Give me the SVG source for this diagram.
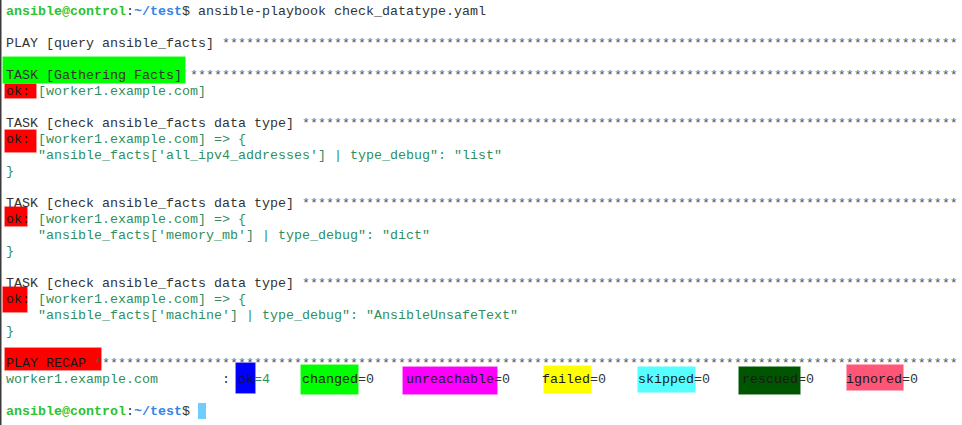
<svg xmlns="http://www.w3.org/2000/svg" width="962" height="425" viewBox="0 0 962 425">
<style>
text{font-family:"Liberation Mono","DejaVu Sans Mono",monospace;font-size:13.333px;white-space:pre;fill:#333333}
.st{fill:#555555}
.tl{fill:#2f8f5f}
.pg{fill:#2bc232;font-weight:bold}
.pb{fill:#3584e4;font-weight:bold}
.dk{fill:#1a1a1a}
.hl{stroke-width:1;stroke-opacity:0.35}
</style>
<rect x="0" y="0" width="962" height="425" fill="#ffffff"/>
<rect x="0" y="0" width="1.5" height="425" fill="#3a3a3a"/>

<g id="highlights">
<rect class="hl" x="2.5" y="56.5" width="183" height="27" fill="#00ff00" stroke="#aaffaa"/>
<rect class="hl" x="4.5" y="83.5" width="32" height="15" fill="#ff0000" stroke="#ffaaaa"/>
<rect class="hl" x="4.5" y="129.5" width="32" height="23" fill="#ff0000" stroke="#ffaaaa"/>
<rect class="hl" x="4.5" y="206.5" width="23" height="20" fill="#ff0000" stroke="#ffaaaa"/>
<rect class="hl" x="2.5" y="286.5" width="25" height="26" fill="#ff0000" stroke="#ffaaaa"/>
<rect class="hl" x="4.5" y="347.5" width="97" height="23" fill="#ff0000" stroke="#ffaaaa"/>
<rect class="hl" x="235.5" y="362.5" width="20" height="31" fill="#0000ff" stroke="#aaaaff"/>
<rect class="hl" x="300.5" y="364.5" width="58" height="30" fill="#00ff00" stroke="#aaffaa"/>
<rect class="hl" x="402.5" y="366.5" width="95" height="28" fill="#ff00ff" stroke="#ffaaff"/>
<rect class="hl" x="543.5" y="365.5" width="48" height="28" fill="#ffff00" stroke="#ffffaa"/>
<rect class="hl" x="637.5" y="366.5" width="58" height="26" fill="#55ffff" stroke="#aaffff"/>
<rect class="hl" x="738.5" y="366.5" width="62" height="28" fill="#005500" stroke="#88bb88"/>
<rect class="hl" x="846.5" y="364.5" width="57" height="26" fill="#ff5577" stroke="#ffaabb"/>
</g>

<g id="prompt1">
<text x="6" y="15.3"><tspan class="pg">ansible@control</tspan>:<tspan class="pb">~/test</tspan>$ ansible-playbook check_datatype.yaml</text>
</g>

<g id="play">
<text x="6" y="47.3">PLAY [query ansible_facts] </text>
<text class="st" x="222" y="47.3"><tspan>**********</tspan><tspan>**********</tspan><tspan>**********</tspan><tspan>**********</tspan><tspan>**********</tspan><tspan>**********</tspan><tspan>**********</tspan><tspan>**********</tspan><tspan>**********</tspan><tspan>**</tspan></text>
</g>

<g id="task1">
<text x="6" y="79.3">TASK [Gathering Facts] </text>
<text class="st" x="190" y="79.3"><tspan>**********</tspan><tspan>**********</tspan><tspan>**********</tspan><tspan>**********</tspan><tspan>**********</tspan><tspan>**********</tspan><tspan>**********</tspan><tspan>**********</tspan><tspan>**********</tspan><tspan>******</tspan></text>
<text x="6" y="95.3"><tspan class="dk">ok:</tspan><tspan class="tl"> [worker1.example.com]</tspan></text>
</g>

<g id="task2">
<text x="6" y="127.3">TASK [check ansible_facts data type] </text>
<text class="st" x="302" y="127.3"><tspan>**********</tspan><tspan>**********</tspan><tspan>**********</tspan><tspan>**********</tspan><tspan>**********</tspan><tspan>**********</tspan><tspan>**********</tspan><tspan>**********</tspan><tspan>**</tspan></text>
<text x="6" y="143.3"><tspan class="dk">ok:</tspan><tspan class="tl"> [worker1.example.com] =&gt; {</tspan></text>
<text class="tl" x="38" y="159.3">"ansible_facts['all_ipv4_addresses'] | type_debug": "list"</text>
<text class="tl" x="6" y="175.3">}</text>
</g>

<g id="task3">
<text x="6" y="207.3">TASK [check ansible_facts data type] </text>
<text class="st" x="302" y="207.3"><tspan>**********</tspan><tspan>**********</tspan><tspan>**********</tspan><tspan>**********</tspan><tspan>**********</tspan><tspan>**********</tspan><tspan>**********</tspan><tspan>**********</tspan><tspan>**</tspan></text>
<text x="6" y="223.3"><tspan class="dk">ok:</tspan><tspan class="tl"> [worker1.example.com] =&gt; {</tspan></text>
<text class="tl" x="38" y="239.3">"ansible_facts['memory_mb'] | type_debug": "dict"</text>
<text class="tl" x="6" y="255.3">}</text>
</g>

<g id="task4">
<text x="6" y="287.3">TASK [check ansible_facts data type] </text>
<text class="st" x="302" y="287.3"><tspan>**********</tspan><tspan>**********</tspan><tspan>**********</tspan><tspan>**********</tspan><tspan>**********</tspan><tspan>**********</tspan><tspan>**********</tspan><tspan>**********</tspan><tspan>**</tspan></text>
<text x="6" y="303.3"><tspan class="dk">ok:</tspan><tspan class="tl"> [worker1.example.com] =&gt; {</tspan></text>
<text class="tl" x="38" y="319.3">"ansible_facts['machine'] | type_debug": "AnsibleUnsafeText"</text>
<text class="tl" x="6" y="335.3">}</text>
</g>

<g id="recap">
<text class="dk" x="6" y="367.3">PLAY RECAP </text>
<text class="st" x="94" y="367.3"><tspan>**********</tspan><tspan>**********</tspan><tspan>**********</tspan><tspan>**********</tspan><tspan>**********</tspan><tspan>**********</tspan><tspan>**********</tspan><tspan>**********</tspan><tspan>**********</tspan><tspan>**********</tspan><tspan>********</tspan></text>
<text class="tl" x="6" y="383.3">worker1.example.com</text>
<text x="222" y="383.3">:</text>
<text x="238" y="383.3"><tspan fill="#101040">ok</tspan><tspan class="tl">=4</tspan></text>
<text x="302" y="383.3"><tspan class="dk">changed</tspan>=0</text>
<text x="406" y="383.3"><tspan class="dk">unreachable</tspan>=0</text>
<text x="542" y="383.3"><tspan class="dk">failed</tspan>=0</text>
<text x="638" y="383.3"><tspan class="dk">skipped</tspan>=0</text>
<text x="742" y="383.3"><tspan class="dk">rescued</tspan>=0</text>
<text x="846" y="383.3"><tspan class="dk">ignored</tspan>=0</text>
</g>

<g id="prompt2">
<text x="6" y="415.3"><tspan class="pg">ansible@control</tspan>:<tspan class="pb">~/test</tspan>$ </text>
<rect x="198" y="403" width="8" height="16" fill="#6fcdfc"/>
</g>
</svg>
